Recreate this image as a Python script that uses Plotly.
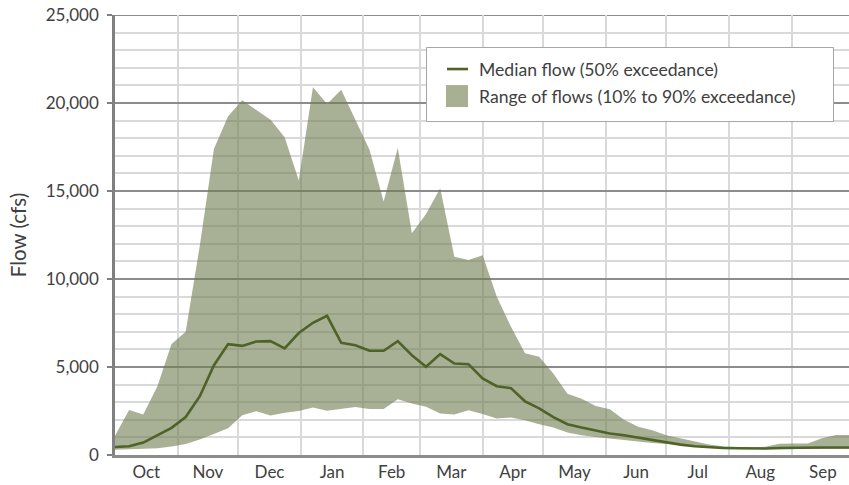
import datetime as dt
import plotly.graph_objects as go

# Weekly values, starting 1 October (water year)
start = dt.date(2020, 10, 1)
weeks = list(range(53))
dates = [start + dt.timedelta(days=7 * w) for w in weeks]

median_flow = [455, 495, 705, 1120, 1540, 2160, 3340, 5100, 6300, 6200, 6450, 6470, 6055,
               6930, 7510, 7910, 6375, 6240, 5920, 5920, 6470, 5670, 5010, 5730, 5200, 5160,
               4350, 3910, 3800, 3050, 2650, 2150, 1750, 1560, 1400, 1220, 1120, 990, 840,
               720, 590, 500, 440, 400, 380, 370, 370, 400, 420, 430, 430, 430, 430]

upper_flow = [1100, 2550, 2300, 3900, 6300, 7000, 11900, 17400, 19250, 20150, 19600, 19050, 18050,
              15600, 20900, 19950, 20750, 19000, 17340, 14400, 17450, 12600, 13700, 15150, 11270, 11080,
              11350, 9000, 7300, 5780, 5580, 4630, 3480, 3200, 2780, 2600, 2000, 1600, 1400,
              1120, 960, 760, 600, 500, 460, 430, 470, 640, 660, 650, 950, 1130, 1130]

lower_flow = [300, 320, 340, 380, 480, 620, 880, 1180, 1520, 2260, 2490, 2240, 2400,
              2500, 2700, 2520, 2640, 2730, 2610, 2610, 3170, 2930, 2740, 2360, 2300, 2540,
              2330, 2070, 2130, 1980, 1750, 1560, 1280, 1120, 1020, 930, 840, 760, 680,
              620, 550, 480, 420, 380, 350, 330, 320, 330, 340, 340, 350, 350, 350]

y_ticks = [0, 5000, 10000, 15000, 20000, 25000]
median_name = "Median flow (50% exceedance)"
range_name = "Range of flows (10% to 90% exceedance)"

FILL = "rgba(110,123,78,0.6)"
FILL_SOLID = "#a8b094"
LINE = "#4F6228"
TEXT = "#404040"
FONT = "Lato"

# page body margin is removed below, so figure pixels == window pixels
W, H = 849, 485
PLOT_L, PLOT_R, PLOT_T, PLOT_B = 115, 849, 15, 454.7   # window pixels
ML = PLOT_L
MT = PLOT_T
MR = W - PLOT_R
MB = H - PLOT_B
PW = PLOT_R - PLOT_L
PH = PLOT_B - PLOT_T


def px_x(p):
    return (p - PLOT_L) / PW


def px_y(p):
    return (PLOT_B - p) / PH


fig = go.Figure()
fig.add_trace(go.Scatter(x=dates, y=lower_flow, mode="lines", line=dict(width=0),
                         showlegend=False, hoverinfo="skip"))
fig.add_trace(go.Scatter(x=dates, y=upper_flow, mode="lines", line=dict(width=0),
                         fill="tonexty", fillcolor=FILL, showlegend=False,
                         name=range_name))
fig.add_trace(go.Scatter(x=dates, y=median_flow, mode="lines", line=dict(color=LINE, width=2.6),
                         showlegend=False, name=median_name))

x_end = dt.datetime(2020, 10, 1) + dt.timedelta(days=363.4)

# top border gridline at the axis maximum
shapes = [
    dict(type="line", xref="paper", yref="y", x0=0, x1=1, y0=y_ticks[-1], y1=y_ticks[-1],
         line=dict(color="#8c8c8c", width=2), layer="below"),
    # legend box drawn in paper coordinates
    dict(type="rect", xref="paper", yref="paper", x0=px_x(426.5), x1=px_x(833.5),
         y0=px_y(121.5), y1=px_y(47.5), line=dict(color="#a6a6a6", width=1), fillcolor="white",
         layer="above"),
    dict(type="line", xref="paper", yref="paper", x0=px_x(447), x1=px_x(468),
         y0=px_y(69), y1=px_y(69), line=dict(color=LINE, width=2.6), layer="above"),
    dict(type="rect", xref="paper", yref="paper", x0=px_x(446), x1=px_x(468),
         y0=px_y(107), y1=px_y(85), line=dict(width=0), fillcolor=FILL_SOLID, layer="above"),
]
annotations = [
    dict(xref="paper", yref="paper", x=px_x(477), y=px_y(69.5), xanchor="left", yanchor="middle",
         text=median_name, showarrow=False, font=dict(family=FONT, size=17.6, color=TEXT)),
    dict(xref="paper", yref="paper", x=px_x(477), y=px_y(96), xanchor="left", yanchor="middle",
         text=range_name, showarrow=False, font=dict(family=FONT, size=17.6, color=TEXT)),
]

fig.update_layout(
    width=W, height=H,
    margin=dict(l=ML, r=MR, t=MT, b=MB),
    paper_bgcolor="white", plot_bgcolor="white",
    font=dict(family=FONT, size=17, color=TEXT),
    showlegend=False,
    shapes=shapes, annotations=annotations,
)
fig.update_xaxes(
    type="date", range=[dt.datetime(2020, 10, 1), x_end], automargin=False,
    dtick="M1", tick0="2020-10-01", tickformat="%b", ticklabelmode="period",
    showgrid=True, gridcolor="#d9d9d9", gridwidth=1.5,
    showline=True, linecolor="#8c8c8c", linewidth=2.5,
    ticks="", ticklabeloverflow="allow",
    minor=dict(dtick="M1", tick0="2020-10-01", ticks="outside", ticklen=5,
               tickcolor="#8c8c8c", tickwidth=1.5, showgrid=False),
    tickfont=dict(family=FONT, size=17, color=TEXT), zeroline=False,
)
fig.update_yaxes(
    range=[0, 25000], tickvals=y_ticks, tickformat=",d", automargin=False,
    showgrid=True, gridcolor="#8c8c8c", gridwidth=1.5,
    minor=dict(dtick=1000, tick0=0, showgrid=True, gridcolor="#d9d9d9", gridwidth=2),
    showline=True, linecolor="#808080", linewidth=2.5,
    ticks="outside", ticklen=5, tickcolor="#808080", tickwidth=1.5,
    ticklabelstandoff=5, ticklabeloverflow="allow",
    tickfont=dict(family=FONT, size=17, color=TEXT), zeroline=False,
    title=dict(text="Flow (cfs)", font=dict(family=FONT, size=20.5, color=TEXT), standoff=14),
)

fig.write_html("out.html", config={"displayModeBar": False},
               post_script="document.body.style.margin='0';document.body.style.overflow='hidden';")
